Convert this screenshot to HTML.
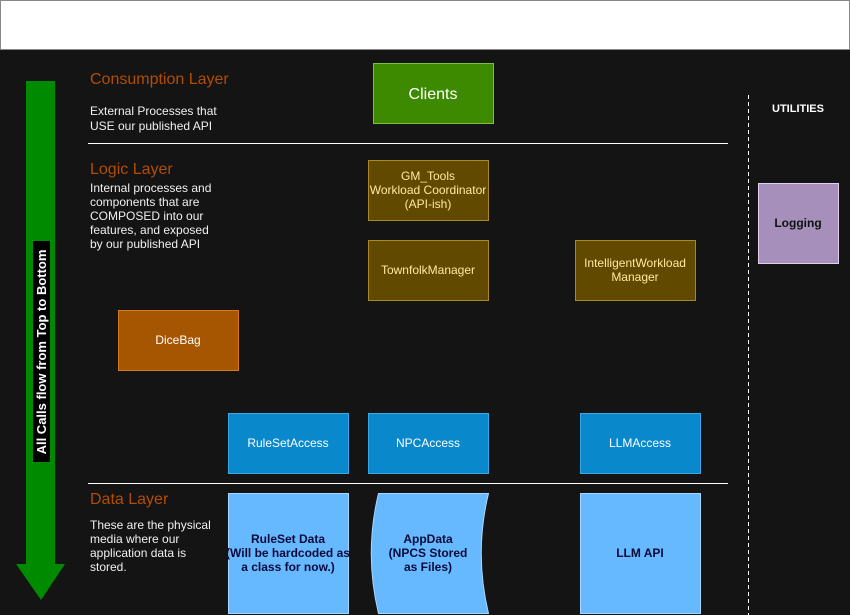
<!DOCTYPE html>
<html><head><style>
html,body{margin:0;padding:0;background:#141414;}
svg{display:block;font-family:"Liberation Sans",Arial,sans-serif;}
</style></head><body>
<svg width="850" height="615" viewBox="0 0 850 615" xmlns="http://www.w3.org/2000/svg">
<rect x="0" y="0" width="850" height="615" fill="#141414"/>
<rect x="0.5" y="0.5" width="849" height="49" fill="#fff" stroke="#888"/>
<polygon points="26,81 55,81 55,564 65,564 41,600 16,564 26,564" fill="#008a00"/>
<rect x="33" y="241" width="17" height="221" fill="#000"/>
<text x="0" y="0" transform="translate(46,352) rotate(-90)" text-anchor="middle" fill="#fff" font-size="13" font-weight="bold">All Calls flow from Top to Bottom</text>
<g font-size="16" fill="#b34d00">
<text x="90" y="84">Consumption Layer</text>
<text x="90" y="174">Logic Layer</text>
<text x="90" y="504">Data Layer</text>
</g>
<g font-size="12" fill="#f0f0f0">
<text x="90" y="115">External Processes that</text>
<text x="90" y="130">USE our published API</text>
<text x="90" y="192">Internal processes and</text>
<text x="90" y="206">components that are</text>
<text x="90" y="220">COMPOSED into our</text>
<text x="90" y="234">features, and exposed</text>
<text x="90" y="248">by our published API</text>
<text x="90" y="529">These are the physical</text>
<text x="90" y="543">media where our</text>
<text x="90" y="557">application data is</text>
<text x="90" y="571">stored.</text>
</g>
<line x1="88" y1="143.5" x2="728" y2="143.5" stroke="#fff"/>
<line x1="88" y1="483.5" x2="728" y2="483.5" stroke="#fff"/>
<line x1="748.5" y1="95" x2="748.5" y2="615" stroke="#fff" stroke-dasharray="4,3"/>
<text x="798" y="112" text-anchor="middle" fill="#fff" font-size="11" font-weight="bold">UTILITIES</text>
<rect x="373.5" y="63.5" width="120" height="60" fill="#3d8a00" stroke="#7bc043"/>
<text x="433" y="99" text-anchor="middle" fill="#fff" font-size="16">Clients</text>
<g fill="#614900" stroke="#a88a1f">
<rect x="368.5" y="160.5" width="120" height="60"/>
<rect x="368.5" y="240.5" width="120" height="60"/>
<rect x="575.5" y="240.5" width="120" height="60"/>
</g>
<g font-size="12" fill="#ffe8a0" text-anchor="middle">
<text x="428" y="180">GM_Tools</text>
<text x="428" y="194">Workload Coordinator</text>
<text x="428" y="208">(API-ish)</text>
<text x="428" y="274">TownfolkManager</text>
<text x="635" y="267">IntelligentWorkload</text>
<text x="635" y="281">Manager</text>
</g>
<rect x="118.5" y="310.5" width="120" height="60" fill="#a65600" stroke="#d67a1f"/>
<text x="178" y="344" text-anchor="middle" fill="#fff" font-size="12">DiceBag</text>
<g fill="#0a88cc" stroke="#3aa8e8">
<rect x="228.5" y="413.5" width="120" height="60"/>
<rect x="368.5" y="413.5" width="120" height="60"/>
<rect x="580.5" y="413.5" width="120" height="60"/>
</g>
<g font-size="12" fill="#fff" text-anchor="middle">
<text x="288" y="447">RuleSetAccess</text>
<text x="428" y="447">NPCAccess</text>
<text x="640" y="447">LLMAccess</text>
</g>
<rect x="758.5" y="183.5" width="80" height="80" fill="#a78fbb" stroke="#e0d0f0"/>
<text x="798" y="227" text-anchor="middle" fill="#111" font-size="12" font-weight="bold">Logging</text>
<g fill="#66b8ff" stroke="#a8d6ff">
<rect x="228.5" y="493.5" width="120" height="120"/>
<rect x="580.5" y="493.5" width="120" height="120"/>
<path d="M378.5,493.5 L488.5,493.5 Q474,553 488.5,613.5 L378.5,613.5 Q364,553 378.5,493.5 Z"/>
</g>
<g font-size="12" fill="#0a0a3a" font-weight="bold" text-anchor="middle">
<text x="288" y="543">RuleSet Data</text>
<text x="288" y="557">(Will be hardcoded as</text>
<text x="288" y="571">a class for now.)</text>
<text x="428" y="543">AppData</text>
<text x="428" y="557">(NPCS Stored</text>
<text x="428" y="571">as Files)</text>
<text x="640" y="557">LLM API</text>
</g>
</svg>
</body></html>
